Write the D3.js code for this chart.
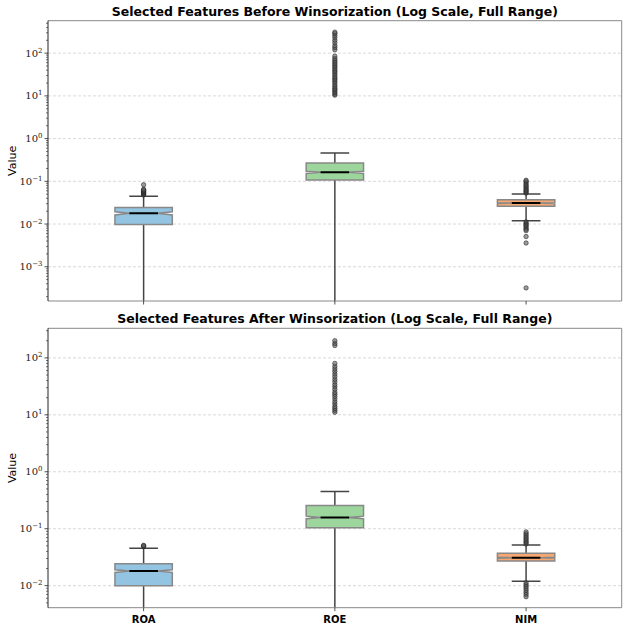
<!DOCTYPE html>
<html>
<head>
<meta charset="utf-8">
<title>Selected features before / after winsorization</title>
<style>
  body {margin: 0; background: white;}
  svg {display: block;}
  .title {font-family: "DejaVu Sans", sans-serif; font-weight: bold; font-size: 12.5px;}
  .ylab {font-family: "DejaVu Sans", sans-serif; font-size: 11px;}
  .tick-lab {font-family: "DejaVu Serif", serif; font-size: 10px; fill: #222;}
  .cat {font-family: "DejaVu Sans", sans-serif; font-weight: bold; font-size: 10px;}
</style>
</head>
<body>
<div id="chart"></div>
<script src="https://d3js.org/d3.v7.min.js"></script>
<script>
// categories and colours
var categories = ["ROA", "ROE", "NIM"];
var boxColors = ["#93c4e2", "#9dd69d", "#f5a872"];

// before winsorization
var beforeLow    = [0.00001, 0.00001, 0.0120];
var beforeQ1     = [0.0098, 0.107, 0.0262];
var beforeMedian = [0.0178, 0.162, 0.0310];
var beforeQ3     = [0.0243, 0.268, 0.0370];
var beforeHigh   = [0.0445, 0.460, 0.0505];
var beforeCiLo   = [0.0163, 0.153, 0.0303];
var beforeCiHi   = [0.0194, 0.171, 0.0317];
var beforeOutliers = [
  [0.048, 0.050, 0.052, 0.054, 0.056, 0.058, 0.060, 0.062, 0.065, 0.083],
  [10.4, 11, 12, 13, 14, 15, 16.5, 18, 20, 22, 24, 26, 28, 31, 34, 37, 40, 44, 48, 52, 57, 62, 68, 75, 85,
   120, 135, 150, 175, 200, 230, 260, 290, 310],
  [0.053, 0.056, 0.059, 0.062, 0.066, 0.070, 0.075, 0.080, 0.086, 0.093, 0.100, 0.106,
   0.0112, 0.0105, 0.0098, 0.0092, 0.0086, 0.0080, 0.0075, 0.0070, 0.0051, 0.0036, 0.00032]
];

// after winsorization
var afterLow    = [0.00001, 0.00001, 0.0119];
var afterQ1     = [0.0100, 0.104, 0.0270];
var afterMedian = [0.0180, 0.158, 0.0310];
var afterQ3     = [0.0243, 0.256, 0.0370];
var afterHigh   = [0.0456, 0.450, 0.0520];
var afterCiLo   = [0.0170, 0.150, 0.0304];
var afterCiHi   = [0.0190, 0.166, 0.0316];
var afterOutliers = [
  [0.049, 0.050, 0.051],
  [11.1, 12, 13, 14, 15.5, 17, 19, 21, 23, 25, 28, 31, 34, 38, 42, 47, 52, 58, 64, 71, 80, 165, 180, 200],
  [0.054, 0.057, 0.060, 0.064, 0.068, 0.072, 0.077, 0.082, 0.088,
   0.0112, 0.0104, 0.0097, 0.0090, 0.0083, 0.0076, 0.0070, 0.0064]
];

// axis limits (log scale)
var beforeDomain = [1.58e-4, 575];
var afterDomain = [0.0041, 331];

var W = 629, H = 638;
var left = 48, right = 621.7;

var svg = d3.select("#chart").append("svg").attr("width", W).attr("height", H);

var x = d3.scaleLinear().domain([0.5, 3.5]).range([left, right]);
var boxW = 0.3;

function rows(low, q1, med, q3, high, cilo, cihi, outl) {
  return categories.map(function(c, i) {
    return {cat: c, i: i, low: low[i], q1: q1[i], med: med[i], q3: q3[i], high: high[i],
            cilo: cilo[i], cihi: cihi[i], out: outl[i], color: boxColors[i]};
  });
}

var panels = [
  {title: "Selected Features Before Winsorization (Log Scale, Full Range)", top: 20.7, bottom: 301,
   domain: beforeDomain, titleY: 15.5,
   data: rows(beforeLow, beforeQ1, beforeMedian, beforeQ3, beforeHigh, beforeCiLo, beforeCiHi, beforeOutliers),
   xlabels: false},
  {title: "Selected Features After Winsorization (Log Scale, Full Range)", top: 328.3, bottom: 607.7,
   domain: afterDomain, titleY: 322.5,
   data: rows(afterLow, afterQ1, afterMedian, afterQ3, afterHigh, afterCiLo, afterCiHi, afterOutliers),
   xlabels: true}
];

panels.forEach(function(p, pi) {
  var y = d3.scaleLog().domain(p.domain).range([p.bottom, p.top]);
  var g = svg.append("g");

  var clipId = "clip" + pi;
  svg.append("clipPath").attr("id", clipId).append("rect")
    .attr("x", left).attr("y", p.top).attr("width", right - left).attr("height", p.bottom - p.top);

  // major ticks / grid
  var lo = Math.ceil(Math.log10(p.domain[0])), hi = Math.floor(Math.log10(p.domain[1]));
  var majors = d3.range(lo, hi + 1);
  var minors = [];
  d3.range(lo - 1, hi + 1).forEach(function(e) {
    for (var m = 2; m <= 9; m++) {
      var v = m * Math.pow(10, e);
      if (v >= p.domain[0] && v <= p.domain[1]) minors.push(v);
    }
  });

  g.selectAll(".grid").data(majors).join("line")
    .attr("x1", left).attr("x2", right)
    .attr("y1", function(e) { return y(Math.pow(10, e)); })
    .attr("y2", function(e) { return y(Math.pow(10, e)); })
    .attr("stroke", "#cfcfcf").attr("stroke-width", 0.8).attr("stroke-dasharray", "3,2");

  var plot = g.append("g").attr("clip-path", "url(#" + clipId + ")");

  var boxes = plot.selectAll(".box").data(p.data).join("g");

  // whiskers
  boxes.append("line")
    .attr("x1", function(d) { return x(d.i + 1); }).attr("x2", function(d) { return x(d.i + 1); })
    .attr("y1", function(d) { return y(d.q1); }).attr("y2", function(d) { return y(d.low); })
    .attr("stroke", "#444").attr("stroke-width", 1.5);
  boxes.append("line")
    .attr("x1", function(d) { return x(d.i + 1); }).attr("x2", function(d) { return x(d.i + 1); })
    .attr("y1", function(d) { return y(d.q3); }).attr("y2", function(d) { return y(d.high); })
    .attr("stroke", "#444").attr("stroke-width", 1.5);
  // caps
  boxes.selectAll(".cap").data(function(d) { return [d.low, d.high].map(function(v) { return {i: d.i, v: v}; }); })
    .join("line")
    .attr("x1", function(d) { return x(d.i + 1 - boxW / 4); })
    .attr("x2", function(d) { return x(d.i + 1 + boxW / 4); })
    .attr("y1", function(d) { return y(d.v); }).attr("y2", function(d) { return y(d.v); })
    .attr("stroke", "#444").attr("stroke-width", 1.5);

  // notched box
  boxes.append("path")
    .attr("d", function(d) {
      var c = d.i + 1, bl = x(c - boxW / 2), br = x(c + boxW / 2);
      var nl = x(c - boxW / 4), nr = x(c + boxW / 4);
      return "M" + bl + "," + y(d.q1) + "L" + br + "," + y(d.q1) +
             "L" + br + "," + y(d.cilo) + "L" + nr + "," + y(d.med) +
             "L" + br + "," + y(d.cihi) + "L" + br + "," + y(d.q3) +
             "L" + bl + "," + y(d.q3) + "L" + bl + "," + y(d.cihi) +
             "L" + nl + "," + y(d.med) + "L" + bl + "," + y(d.cilo) + "Z";
    })
    .attr("fill", function(d) { return d.color; })
    .attr("stroke", "#888").attr("stroke-width", 1.5).attr("stroke-linejoin", "miter");

  // median
  boxes.append("line")
    .attr("x1", function(d) { return x(d.i + 1 - boxW / 4); })
    .attr("x2", function(d) { return x(d.i + 1 + boxW / 4); })
    .attr("y1", function(d) { return y(d.med); }).attr("y2", function(d) { return y(d.med); })
    .attr("stroke", "black").attr("stroke-width", 2);

  // outliers
  boxes.selectAll("circle").data(function(d) { return d.out.map(function(v) { return {i: d.i, v: v}; }); })
    .join("circle")
    .attr("cx", function(d) { return x(d.i + 1); })
    .attr("cy", function(d) { return y(d.v); })
    .attr("r", 2.2)
    .attr("fill", "rgba(90,90,90,0.6)")
    .attr("stroke", "rgba(30,30,30,0.7)").attr("stroke-width", 0.8);

  // spines
  g.append("line").attr("x1", left).attr("x2", right).attr("y1", p.top).attr("y2", p.top)
    .attr("stroke", "#888").attr("stroke-width", 1);
  g.append("line").attr("x1", left).attr("x2", right).attr("y1", p.bottom).attr("y2", p.bottom)
    .attr("stroke", "#888").attr("stroke-width", 1);
  g.append("line").attr("x1", right).attr("x2", right).attr("y1", p.top).attr("y2", p.bottom)
    .attr("stroke", "#888").attr("stroke-width", 1);
  g.append("line").attr("x1", left).attr("x2", left).attr("y1", p.top).attr("y2", p.bottom)
    .attr("stroke", "#222").attr("stroke-width", 1);

  // y ticks
  g.selectAll(".minor").data(minors).join("line")
    .attr("x1", left - 2).attr("x2", left)
    .attr("y1", function(v) { return y(v); }).attr("y2", function(v) { return y(v); })
    .attr("stroke", "#222").attr("stroke-width", 0.6);
  g.selectAll(".major").data(majors).join("line")
    .attr("x1", left - 3.5).attr("x2", left)
    .attr("y1", function(e) { return y(Math.pow(10, e)); })
    .attr("y2", function(e) { return y(Math.pow(10, e)); })
    .attr("stroke", "#222").attr("stroke-width", 0.8);

  var labs = g.selectAll(".tick-lab").data(majors).join("text")
    .attr("class", "tick-lab")
    .attr("x", left - 5.5)
    .attr("y", function(e) { return y(Math.pow(10, e)) + 3.5; })
    .attr("text-anchor", "end");
  labs.append("tspan").text("10");
  labs.append("tspan").attr("dy", -4).attr("font-size", "7px")
    .text(function(e) { return e < 0 ? "\u2212" + (-e) : String(e); });

  // x ticks
  g.selectAll(".xt").data(categories).join("line")
    .attr("x1", function(c, i) { return x(i + 1); }).attr("x2", function(c, i) { return x(i + 1); })
    .attr("y1", p.bottom).attr("y2", p.bottom + 3.5)
    .attr("stroke", "#222").attr("stroke-width", 0.8);
  if (p.xlabels) {
    g.selectAll(".cat").data(categories).join("text")
      .attr("class", "cat")
      .attr("x", function(c, i) { return x(i + 1); })
      .attr("y", p.bottom + 15)
      .attr("text-anchor", "middle")
      .text(function(c) { return c; });
  }

  // title and y label
  g.append("text").attr("class", "title")
    .attr("x", (left + right) / 2).attr("y", p.titleY)
    .attr("text-anchor", "middle").text(p.title);
  g.append("text").attr("class", "ylab")
    .attr("transform", "translate(16," + ((p.top + p.bottom) / 2) + ") rotate(-90)")
    .attr("text-anchor", "middle").text("Value");
});
</script>
</body>
</html>
